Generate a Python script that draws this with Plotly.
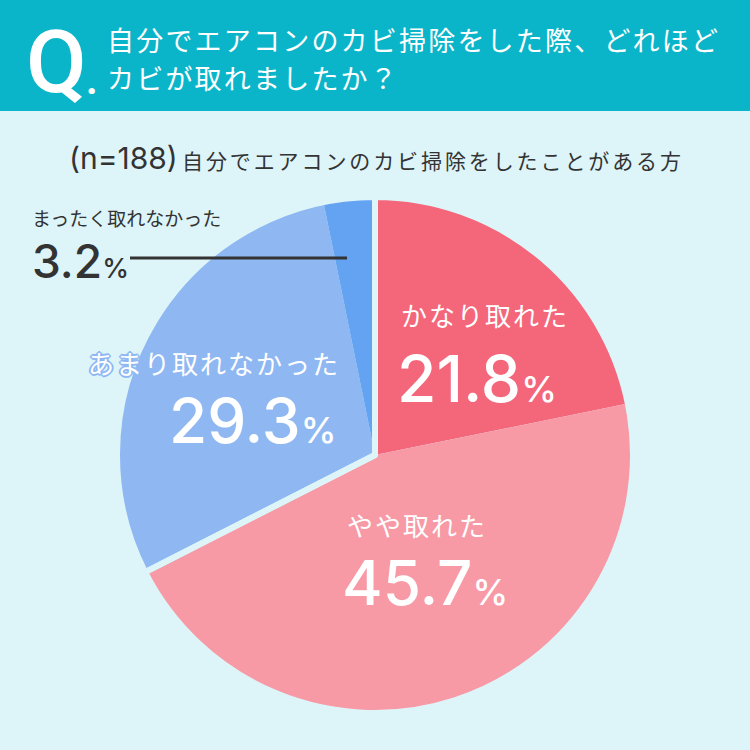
import plotly.graph_objects as go

# ---- data ----
labels = ["かなり取れた", "やや取れた", "あまり取れなかった", "まったく取れなかった"]
values = [21.8, 45.7, 29.3, 3.2]
colors = ["#F4667A", "#F79AA6", "#8FB8F2", "#64A2F2"]
groups = ["取れた", "取れなかった"]
group_values = [values[0] + values[1], values[2] + values[3]]

title_lines = ["自分でエアコンのカビ掃除をした際、どれほど", "カビが取れましたか？"]
n_text = "(n=188)"
sub_text = "自分でエアコンのカビ掃除をしたことがある方"

BG = "#DDF5F9"
TEAL = "#0BB5C9"
DARK = "#333333"
JP = "Noto Sans CJK JP"
NUM = "Inter"

W = H = 750


def px(x):
    return x / W


def py(y):
    return 1 - y / H


fig = go.Figure()

dom_x = [px(117), px(633)]
dom_y = [py(713), py(197)]

fig.add_trace(go.Pie(
    labels=labels, values=values, sort=False, direction="clockwise", rotation=0,
    marker=dict(colors=colors, line=dict(width=0)),
    textinfo="none", hoverinfo="label+percent", showlegend=False,
    domain=dict(x=dom_x, y=dom_y),
))
# group separator overlay
fig.add_trace(go.Pie(
    labels=groups, values=group_values, sort=False, direction="clockwise", rotation=0,
    marker=dict(colors=["rgba(0,0,0,0)", "rgba(0,0,0,0)"], line=dict(color=BG, width=6)),
    textinfo="none", hoverinfo="skip", showlegend=False,
    domain=dict(x=dom_x, y=dom_y),
))

shapes = [
    dict(type="rect", xref="paper", yref="paper", x0=0, x1=1, y0=py(111), y1=1,
         fillcolor=TEAL, line=dict(width=0), layer="below"),
    dict(type="line", xref="paper", yref="paper", x0=px(130), x1=px(347), y0=py(258), y1=py(258),
         line=dict(color=DARK, width=3)),
]

ann = []


def add(text, x, y, size, color="white", family=JP, weight=500, xanchor="left", shadow=None, ls=None):
    f = dict(size=size, color=color, family=family, weight=weight)
    if shadow:
        f["shadow"] = shadow
    if ls is not None:
        text = f"<span style='letter-spacing:{ls}px'>{text}</span>"
    ann.append(dict(text=text, x=px(x), y=py(y), xref="paper", yref="paper",
                    xanchor=xanchor, yanchor="middle", showarrow=False, font=f))


def pct(v, small):
    return f"{v}<span style='font-size:{small}px'>%</span>"


# header
add("Q", 24, 61, 88, family="Roboto", weight=500)
add(".", 84, 80, 40, family="Roboto", weight=700)
add(title_lines[0], 105, 39, 27, weight=400, ls=2.2)
add(title_lines[1], 105, 77, 27, weight=400, ls=2.2)

# subtitle
add(n_text, 67, 158, 30, color=DARK, family=NUM, weight=400)
add(sub_text, 180, 160, 21, color=DARK, weight=400, ls=2.9)

# slice labels
add(labels[0], 399, 315, 26, weight=400, ls=2)
add(pct(values[0], 36), 395, 378, 64, family=NUM)

add(labels[1], 345, 524, 26, weight=400, ls=2)
add(pct(values[1], 36), 340, 582, 62, family=NUM)

outline = ("1px 1px 0 #8FB8F2, -1px -1px 0 #8FB8F2, 1px -1px 0 #8FB8F2, -1px 1px 0 #8FB8F2, "
           "2px 0 0 #8FB8F2, -2px 0 0 #8FB8F2, 0 2px 0 #8FB8F2, 0 -2px 0 #8FB8F2")
add(labels[2], 86, 362, 26, weight=400, shadow=outline, ls=2)
add(pct(values[2], 36), 167, 420, 62, family=NUM)

add(labels[3], 30, 217, 19, color=DARK, weight=400)
add(pct(values[3], 27), 30, 261, 46, color=DARK, family=NUM)

fig.update_layout(
    width=W, height=H, margin=dict(l=0, r=0, t=0, b=0),
    paper_bgcolor=BG, plot_bgcolor=BG,
    shapes=shapes, annotations=ann, showlegend=False,
)

fig.write_html("out.html")
